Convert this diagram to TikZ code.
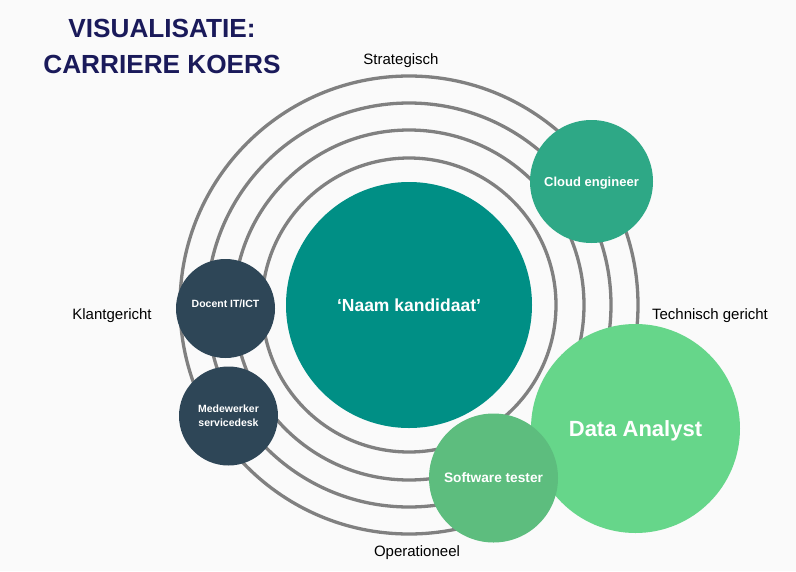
\documentclass[tikz,border=0pt]{standalone}
\usepackage{fontspec}
\setmainfont{Liberation Sans}
\definecolor{bgcol}{HTML}{FAFAFA}
\definecolor{navy}{HTML}{1A1A5A}
\definecolor{ringcol}{HTML}{808080}
\definecolor{tealcol}{HTML}{008F85}
\definecolor{cloudcol}{HTML}{2EA886}
\definecolor{analystcol}{HTML}{66D68A}
\definecolor{testercol}{HTML}{5DBD7E}
\definecolor{darkcol}{HTML}{2E4657}
\tikzset{
  role/.style={circle,inner sep=0pt,text=white,font=\bfseries,align=center,text depth=0pt},
  axis/.style={font=\fontsize{15}{18}\selectfont,text=black,text depth=0pt},
  titletext/.style={font=\fontsize{26.2}{30}\selectfont\bfseries,text=navy}
}
\begin{document}
\begin{tikzpicture}[x=1pt,y=-1pt]

      \fill[bgcol] (0,0) rectangle (796,571);
      \useasboundingbox (0,0) rectangle (796,571);

      \node[titletext] (title1) at (162,28) {VISUALISATIE:};
      \node[titletext] (title2) at (162,64) {CARRIERE KOERS};

      \coordinate (mid) at (409,305);
      \foreach \r in {147,175,202,229}
        \draw[ringcol,line width=3.3pt] (mid) circle[radius=\r];

      \begin{scope}[every node/.style={axis}]
        \node (strat) at (401,59)  {Strategisch};
        \node (klant) at (112,314) {Klantgericht};
        \node (techn) at (710,314) {Technisch gericht};
        \node (oper)  at (417,551) {Operationeel};
      \end{scope}

      \node[role,fill=tealcol,minimum size=246pt,font=\fontsize{17.5}{20}\selectfont\bfseries] (kandidaat) at (mid) {‘Naam kandidaat’};

      \node[role,fill=cloudcol,minimum size=123pt,font=\fontsize{13}{15}\selectfont\bfseries] (cloud) at (591.5,181.5) {Cloud engineer};
      \node[role,fill=darkcol,minimum size=99pt,font=\fontsize{10.5}{14}\selectfont\bfseries] (docent) at (225.5,308.5) {\raisebox{9pt}{Docent IT/ICT}};
      \node[role,fill=darkcol,minimum size=99pt,font=\fontsize{10.5}{14}\selectfont\bfseries] (service) at (228.5,416) {Medewerker\\servicedesk};
      \node[role,fill=analystcol,minimum size=209pt,font=\fontsize{22}{26}\selectfont\bfseries] (analyst) at (635.5,428.5) {Data Analyst};
      \node[role,fill=testercol,minimum size=129pt,font=\fontsize{13.7}{16}\selectfont\bfseries] (tester) at (493.5,478) {Software tester};

    \end{tikzpicture}
\end{document}
